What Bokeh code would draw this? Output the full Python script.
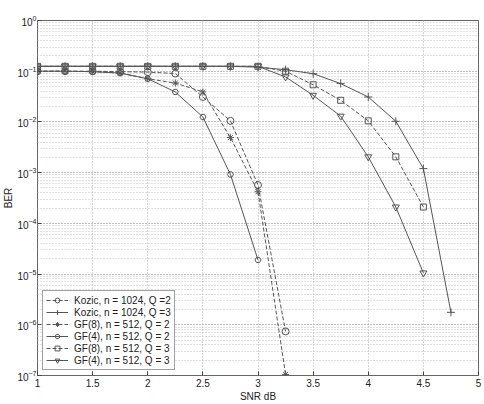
from bokeh.plotting import figure
from bokeh.models import FixedTicker, Legend, LegendItem, ColumnDataSource
from bokeh.embed import file_html
from bokeh.resources import INLINE

snr = [1.0, 1.25, 1.5, 1.75, 2.0, 2.25, 2.5, 2.75, 3.0, 3.25, 3.5, 3.75, 4.0, 4.25, 4.5, 4.75]

kozic_q2_x = snr[:10]
kozic_q2 = [0.1, 0.1, 0.1, 0.098, 0.096, 0.09, 0.031, 0.0105, 5.7e-4, 7.4e-7]

kozic_q3_x = snr[:16]
kozic_q3 = [0.125, 0.125, 0.125, 0.125, 0.125, 0.125, 0.125, 0.125, 0.12, 0.107,
            0.0895, 0.057, 0.031, 0.0103, 1.2e-3, 1.76e-6]

gf8_q2_x = snr[:10]
gf8_q2 = [0.1, 0.1, 0.098, 0.092, 0.071, 0.0586, 0.039, 0.0049, 4.2e-4, 1.05e-7]

gf4_q2_x = snr[:9]
gf4_q2 = [0.1, 0.1, 0.098, 0.092, 0.071, 0.039, 0.0125, 9.2e-4, 1.9e-5]

gf8_q3_x = snr[:15]
gf8_q3 = [0.125, 0.125, 0.125, 0.125, 0.125, 0.125, 0.125, 0.125, 0.125, 0.1,
          0.054, 0.0267, 0.0105, 2.05e-3, 2.1e-4]

gf4_q3_x = snr[:15]
gf4_q3 = [0.125, 0.125, 0.125, 0.125, 0.125, 0.125, 0.125, 0.125, 0.125, 0.077,
          0.0335, 0.013, 2.05e-3, 2.1e-4, 1.05e-5]

labels = ["Kozic, n = 1024, Q =2", "Kozic, n = 1024, Q =3", "GF(8), n = 512, Q = 2",
          "GF(4), n = 512, Q = 2", "GF(8), n = 512, Q = 3", "GF(4), n = 512, Q = 3"]
x_ticks = [1, 1.5, 2, 2.5, 3, 3.5, 4, 4.5, 5]

FONT = "Liberation Sans"
LC = "#555555"

p = figure(width=484, height=404, y_axis_type="log", x_range=(1, 5), y_range=(1e-7, 1),
           output_backend="svg", toolbar_location=None,
           min_border_left=0, min_border_right=6, min_border_top=20, min_border_bottom=28)
p.background_fill_color = "white"
p.border_fill_color = "white"
p.outline_line_color = "#666666"
p.outline_line_width = 1

# axes
p.xaxis.ticker = FixedTicker(ticks=x_ticks)
p.xaxis.major_label_overrides = {1: "1", 1.5: "1.5", 2: "2", 2.5: "2.5", 3: "3",
                                 3.5: "3.5", 4: "4", 4.5: "4.5", 5: "5"}
for ax in [p.xaxis[0], p.yaxis[0]]:
    ax.major_tick_in = 4
    ax.major_tick_out = 0
    ax.minor_tick_in = 0
    ax.minor_tick_out = 0
    ax.axis_line_color = None
    ax.major_tick_line_color = "#444444"
    ax.major_label_text_font = FONT
    ax.major_label_text_font_size = "10px"
    ax.major_label_text_color = "#222222"
    ax.axis_label_text_font = FONT
    ax.axis_label_text_font_size = "10px"
    ax.axis_label_text_font_style = "normal"
    ax.axis_label_text_color = "#222222"
p.xaxis.axis_label = "SNR dB"
p.xaxis.major_label_standoff = 3
p.xaxis.axis_label_standoff = 1
p.yaxis.axis_label = "BER"
p.yaxis.major_label_standoff = 1
p.yaxis.axis_label_standoff = 0

# grid
p.xgrid.ticker = FixedTicker(ticks=x_ticks)
p.xgrid.grid_line_color = "#b0b0b0"
p.xgrid.grid_line_dash = "1 2"
p.ygrid.grid_line_color = "#b0b0b0"
p.ygrid.grid_line_dash = "1 2"
p.ygrid.minor_grid_line_color = "#c0c0c0"
p.ygrid.minor_grid_line_dash = "1 2"

items = []

def series(x, y, label, dash, marker, size):
    src = ColumnDataSource(dict(x=x, y=y))
    ln = p.line("x", "y", source=src, line_color=LC, line_width=1, line_dash=dash)
    mk = p.scatter("x", "y", source=src, marker=marker, size=size, line_color=LC,
                   fill_color=None, line_width=1)
    items.append(LegendItem(label=label, renderers=[ln, mk]))

series(kozic_q2_x, kozic_q2, labels[0], "4 2", "circle", 7)
series(kozic_q3_x, kozic_q3, labels[1], "solid", "cross", 8)
series(gf8_q2_x, gf8_q2, labels[2], "4 2", "asterisk", 7)
series(gf4_q2_x, gf4_q2, labels[3], "solid", "hex", 6)
series(gf8_q3_x, gf8_q3, labels[4], "4 2", "square", 6)
series(gf4_q3_x, gf4_q3, labels[5], "solid", "inverted_triangle", 7)

legend = Legend(items=items, location="bottom_left")
legend.label_text_font = FONT
legend.label_text_font_size = "10px"
legend.label_text_color = "#222222"
legend.glyph_height = 12
legend.glyph_width = 22
legend.label_height = 12
legend.spacing = 0
legend.padding = 3
legend.margin = 5
legend.label_standoff = 6
legend.border_line_color = "#444444"
legend.background_fill_color = "white"
legend.background_fill_alpha = 1
p.add_layout(legend)

open("out.html", "w").write(file_html(p, INLINE))
